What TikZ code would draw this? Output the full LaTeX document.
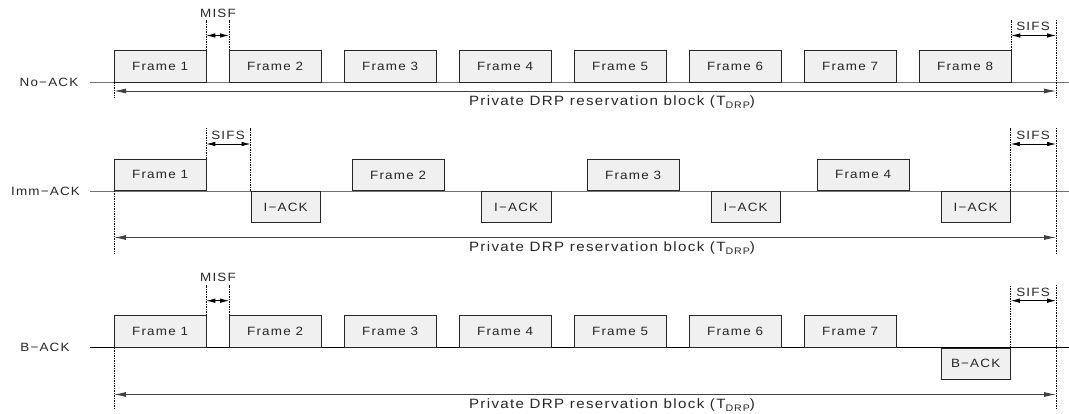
\documentclass[tikz,border=0pt]{standalone}
\usepackage{fontspec}
\setmainfont{Liberation Sans}[FakeStretch=1.12,LetterSpace=10]
\usetikzlibrary{arrows.meta}
\newcommand{\fsz}[1]{\fontsize{#1}{#1}\selectfont}
\newcommand{\tdrp}{T\raisebox{-0.45ex}{\fsz{9.5}DRP}}
\begin{document}
\begin{tikzpicture}[x=1pt,y=-1pt,
  every node/.style={text=black!85},
  box/.style={draw=black!85, fill=black!6, line width=0.75pt, inner sep=0pt,
    minimum height=31.5pt, font=\fsz{12}},
  frm/.style={box, minimum width=91.5pt, anchor=south west},
  ack/.style={box, minimum width=69.5pt, anchor=north west},
  base/.style={draw=black!55, line width=0.9pt},
  dsh/.style={draw=black, line width=0.6pt, dash pattern=on 1.5pt off 1pt},
  span/.style={draw=black!75, line width=0.8pt,
    {Latex[length=12pt,width=5pt]}-{Latex[length=12pt,width=5pt]}},
  gap/.style={draw=black, line width=0.8pt,
    {Latex[length=9pt,width=4.5pt]}-{Latex[length=9pt,width=4.5pt]}},
  lbl/.style={inner sep=0pt, font=\fsz{12}},
  res/.style={inner sep=0pt, font=\fsz{13.5}},
]
\useasboundingbox (0,0) rectangle (1069,414);

% ---------------- No-ACK ----------------
\node[lbl] (rowA) at (49,82.5) {No−ACK};
\coordinate (aL) at (90,82.5);
\coordinate (aR) at (1069,82.5);
\draw[base] (aL) -- (aR);
\foreach \k in {1,...,8}
  \node[frm] (a\k) at ({114+115*(\k-1)},82.5) {Frame \k};
\coordinate (aTop) at (0,20);
\coordinate (aGap) at (0,35.5);
\coordinate (aSpan) at (0,91);
\coordinate (aBot) at (0,98);
\coordinate (aStart) at (114,82.5);
\coordinate (aEnd) at (1056,20);
% MISF
\draw[dsh] (a1.north east) -- (a1.north east |- aTop);
\draw[dsh] (a2.north west) -- (a2.north west |- aTop);
\draw[gap] (a1.north east |- aGap) -- (a2.north west |- aGap);
\node[lbl] (misfA) at (218,13) {MISF};
% SIFS
\draw[dsh] (a8.north east) -- (a8.north east |- aTop);
\draw[dsh] (aEnd) -- (aEnd |- aBot);
\draw[gap] (a8.north east |- aGap) -- (aEnd |- aGap);
\node[lbl] (sifsA) at (1033,26) {SIFS};
% reservation block
\draw[dsh] (aStart) -- (aStart |- aBot);
\draw[span] (aStart |- aSpan) -- (aEnd |- aSpan);
\node[res] (resA) at (612,102) {Private DRP reservation block (\tdrp)};

% ---------------- Imm-ACK ----------------
\node[lbl] (rowB) at (45.5,191) {Imm−ACK};
\coordinate (bL) at (90,191);
\coordinate (bR) at (1069,191);
\draw[base] (bL) -- (bR);
\node[frm] (bf1) at (114,191) {Frame 1};
\node[frm, minimum width=92.5pt] (bf2) at (351.5,191) {Frame 2};
\node[frm, minimum width=92.5pt] (bf3) at (586.5,191) {Frame 3};
\node[frm, minimum width=92.5pt] (bf4) at (816.5,191) {Frame 4};
\node[ack] (bk1) at (250.5,191) {I−ACK};
\node[ack] (bk2) at (481,191) {I−ACK};
\node[ack] (bk3) at (710.5,191) {I−ACK};
\node[ack] (bk4) at (940.5,191) {I−ACK};
\coordinate (bTop) at (0,128);
\coordinate (bGap) at (0,144);
\coordinate (bSpan) at (0,237.5);
\coordinate (bBot) at (0,254);
\coordinate (bStart) at (114,191);
\coordinate (bEnd) at (1056,128);
% SIFS after Frame 1
\draw[dsh] (bf1.north east) -- (bf1.north east |- bTop);
\draw[dsh] (bk1.north west) -- (bk1.north west |- bTop);
\draw[gap] (bf1.north east |- bGap) -- (bk1.north west |- bGap);
\node[lbl] (sifsB1) at (228,135) {SIFS};
% SIFS at the end
\draw[dsh] (bk4.north east) -- (bk4.north east |- bTop);
\draw[dsh] (bEnd) -- (bEnd |- bBot);
\draw[gap] (bk4.north east |- bGap) -- (bEnd |- bGap);
\node[lbl] (sifsB2) at (1033,135) {SIFS};
% reservation block
\draw[dsh] (bStart) -- (bStart |- bBot);
\draw[span] (bStart |- bSpan) -- (bEnd |- bSpan);
\node[res] (resB) at (612,248.5) {Private DRP reservation block (\tdrp)};

% ---------------- B-ACK ----------------
\node[lbl] (rowC) at (45,347.5) {B−ACK};
\coordinate (cL) at (90,347.5);
\coordinate (cR) at (1069,347.5);
\draw[draw=black, line width=0.9pt] (cL) -- (cR);
\foreach \k in {1,...,7}
  \node[frm] (c\k) at ({114+115*(\k-1)},347.5) {Frame \k};
\node[ack] (ck) at (940.5,347.5) {B−ACK};
\coordinate (cTop) at (0,285);
\coordinate (cGap) at (0,300.7);
\coordinate (cSpan) at (0,394.5);
\coordinate (cBot) at (0,408);
\coordinate (cStart) at (114,347.5);
\coordinate (cEnd) at (1056,285);
% MISF
\draw[dsh] (c1.north east) -- (c1.north east |- cTop);
\draw[dsh] (c2.north west) -- (c2.north west |- cTop);
\draw[gap] (c1.north east |- cGap) -- (c2.north west |- cGap);
\node[lbl] (misfC) at (218,277) {MISF};
% SIFS
\draw[dsh] (ck.north east) -- (ck.north east |- cTop);
\draw[dsh] (cEnd) -- (cEnd |- cBot);
\draw[gap] (ck.north east |- cGap) -- (cEnd |- cGap);
\node[lbl] (sifsC) at (1033,292) {SIFS};
% reservation block
\draw[dsh] (cStart) -- (cStart |- cBot);
\draw[span] (cStart |- cSpan) -- (cEnd |- cSpan);
\node[res] (resC) at (612,405) {Private DRP reservation block (\tdrp)};
\end{tikzpicture}
\end{document}
